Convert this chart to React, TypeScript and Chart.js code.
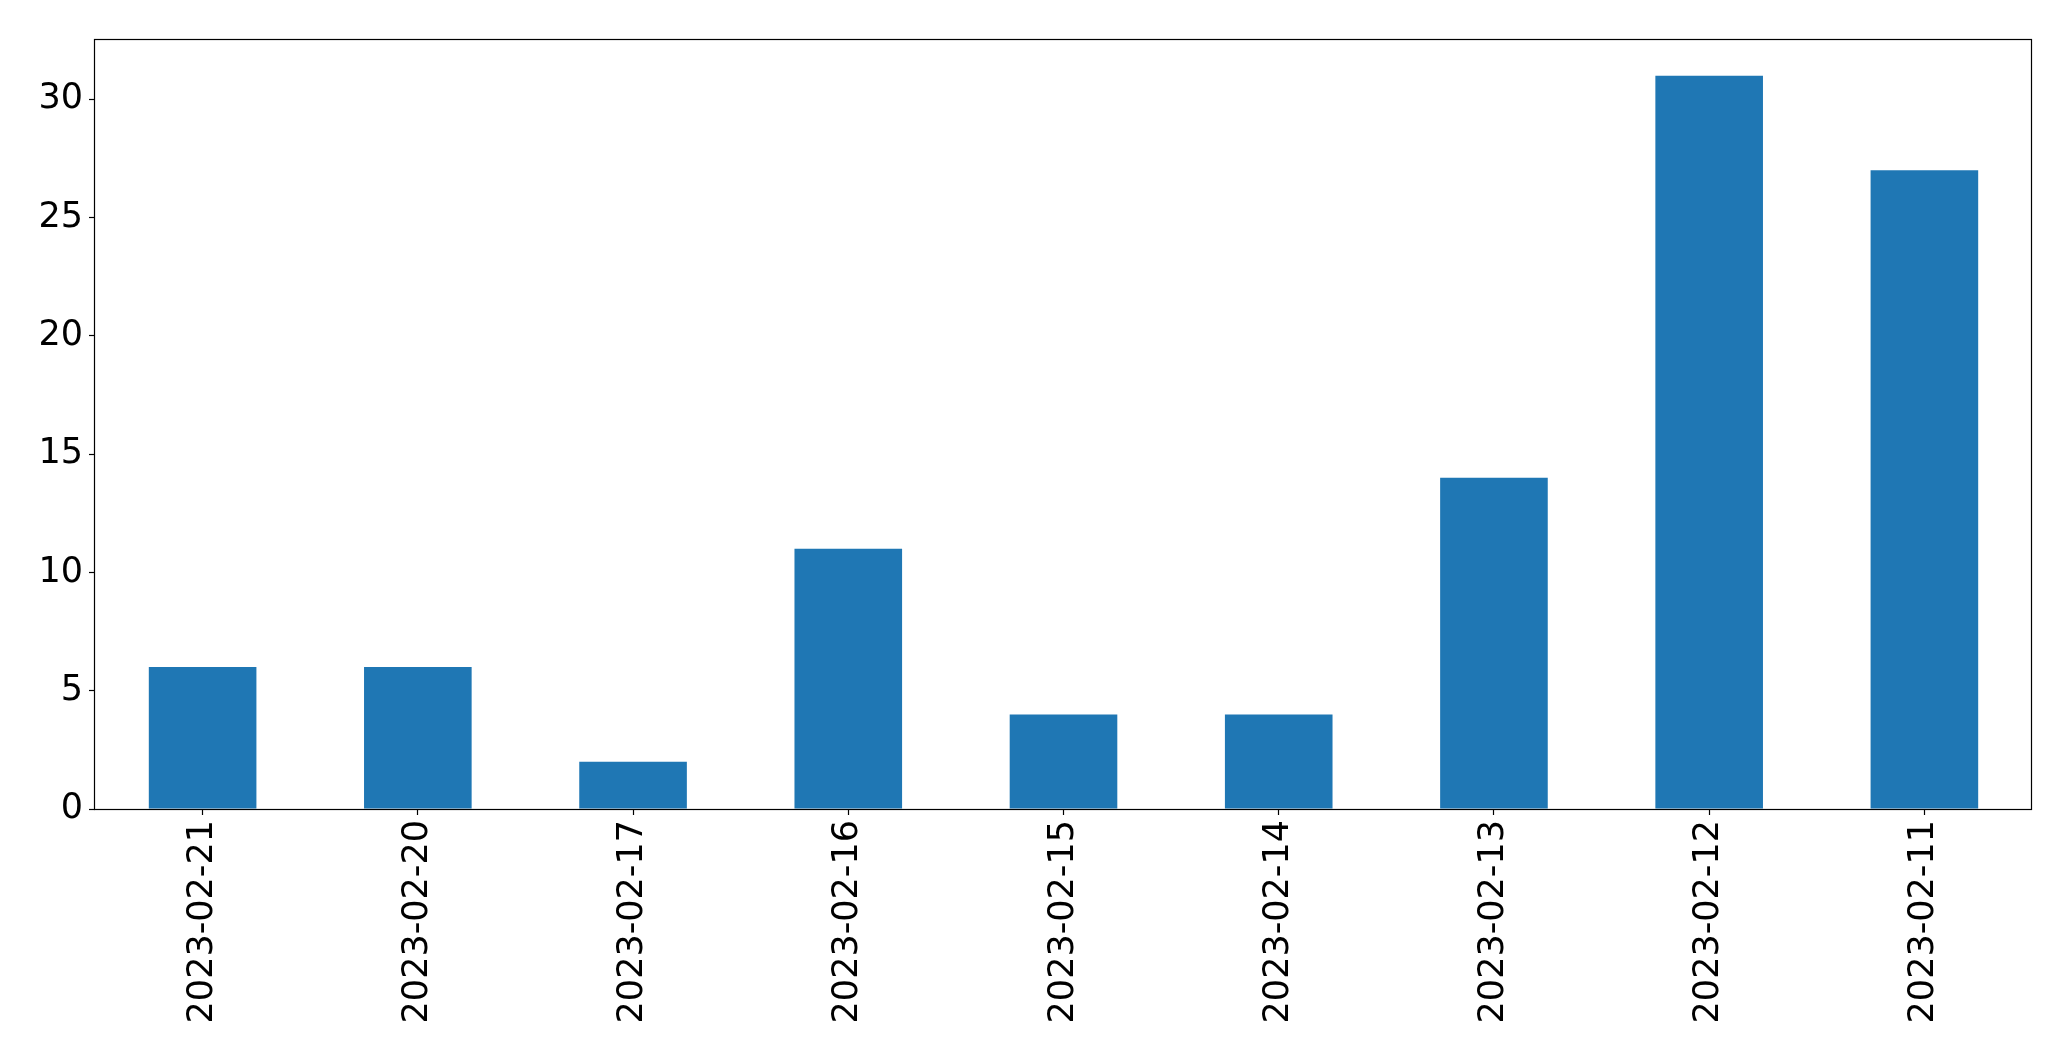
import React, { useEffect, useRef } from "react";
import { Chart, registerables } from "chart.js";

Chart.register(...registerables);

const categories = [
  "2023-02-21",
  "2023-02-20",
  "2023-02-17",
  "2023-02-16",
  "2023-02-15",
  "2023-02-14",
  "2023-02-13",
  "2023-02-12",
  "2023-02-11",
];
const counts = [6, 6, 2, 11, 4, 4, 14, 31, 27];
const yTicks = [0, 5, 10, 15, 20, 25, 30];
const yMax = 32.55;

const frame = {
  id: "frame",
  afterDraw(chart: any) {
    const { ctx, chartArea } = chart;
    const l = Math.round(chartArea.left) - 0.5;
    const r = Math.round(chartArea.right) - 0.5;
    const t = Math.round(chartArea.top) + 0.5;
    const b = Math.round(chartArea.bottom) + 0.5;
    ctx.save();
    ctx.strokeStyle = "#000";
    ctx.lineWidth = 1.2;
    ctx.strokeRect(l, t, r - l, b - t);
    ctx.restore();
  },
};

export default function App() {
  const ref = useRef<HTMLCanvasElement | null>(null);
  useEffect(() => {
    if (!ref.current) return;
    const font = { family: "DejaVu Sans", size: 35 };
    const chart = new Chart(ref.current, {
      type: "bar",
      data: {
        labels: categories,
        datasets: [
          {
            data: counts,
            backgroundColor: "#1f77b4",
            borderWidth: 0,
            categoryPercentage: 1,
            barPercentage: 0.5,
          },
        ],
      },
      options: {
        animation: false,
        responsive: false,
        maintainAspectRatio: false,
        layout: { padding: { top: 39, right: 39, bottom: 0, left: 0 } },
        plugins: { legend: { display: false }, tooltip: { enabled: false } },
        scales: {
          x: {
            offset: true,
            grid: {
              offset: false,
              drawOnChartArea: false,
              tickLength: 6,
              tickColor: "#000",
              tickWidth: 1.2,
            },
            border: { display: false },
            ticks: {
              color: "#000",
              font,
              minRotation: 90,
              maxRotation: 90,
              padding: 5,
              autoSkip: false,
            },
            afterFit(scale: any) {
              scale.height = 252;
            },
          },
          y: {
            min: 0,
            max: yMax,
            grid: {
              drawOnChartArea: false,
              tickLength: 6,
              tickColor: "#000",
              tickWidth: 1.2,
            },
            border: { display: false },
            ticks: { color: "#000", font, padding: 6 },
            afterBuildTicks(scale: any) {
              scale.ticks = yTicks.map((v) => ({ value: v }));
            },
            afterFit(scale: any) {
              scale.width = 95;
            },
          },
        },
      },
      plugins: [frame],
    });
    return () => chart.destroy();
  }, []);
  return (
    <div style={{ position: "fixed", left: 0, top: 0, width: 2071, height: 1061, background: "#fff" }}>
      <canvas ref={ref} width={2071} height={1061} style={{ display: "block" }} />
    </div>
  );
}
